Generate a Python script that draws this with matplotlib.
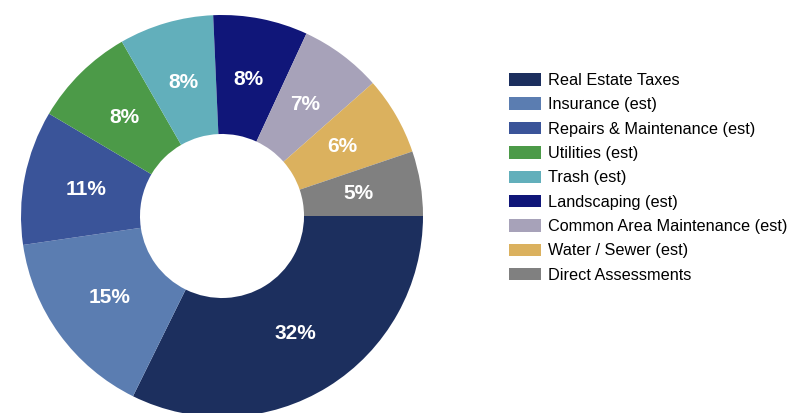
import matplotlib
matplotlib.use('Agg')
import matplotlib.pyplot as plt

plt.rcParams['font.family'] = ['Liberation Sans', 'DejaVu Sans']

categories = ["Real Estate Taxes", "Insurance (est)", "Repairs & Maintenance (est)",
              "Utilities (est)", "Trash (est)", "Landscaping (est)",
              "Common Area Maintenance (est)", "Water / Sewer (est)", "Direct Assessments"]
shares = [32.3, 15.4, 10.8, 8.2, 7.6, 7.6, 6.6, 6.3, 5.2]
colors = ['#1c2f5e', '#5b7db1', '#3a5499', '#4c9a48', '#62afbb',
          '#101679', '#a7a2b9', '#dbb15e', '#808080']

W, H = 789, 413
fig = plt.figure(figsize=(W / 100, H / 100), dpi=100)

# donut: centre (222, 216) px, outer radius 201 px, hole radius 82 px
ax = fig.add_axes([21 / W, -4 / H, 402 / W, 402 / H])
wedges, texts, pcts = ax.pie(shares, colors=colors, startangle=0, counterclock=False,
                             radius=1.0, autopct='%.0f%%', pctdistance=0.69,
                             wedgeprops=dict(width=0.592, linewidth=0),
                             textprops=dict(color='white', fontsize=15, fontweight='bold'))
ax.set_xlim(-1, 1)
ax.set_ylim(-1, 1)
ax.set_aspect('equal')
ax.axis('off')

fig.legend(wedges, categories, loc='upper left', bbox_to_anchor=(509 / W, 1 - 73 / H),
           frameon=False, fontsize=11.7, handlelength=1.97, handleheight=0.8,
           handletextpad=0.4, labelspacing=0.575, borderpad=0, borderaxespad=0)

fig.savefig('out.png', dpi=100)
